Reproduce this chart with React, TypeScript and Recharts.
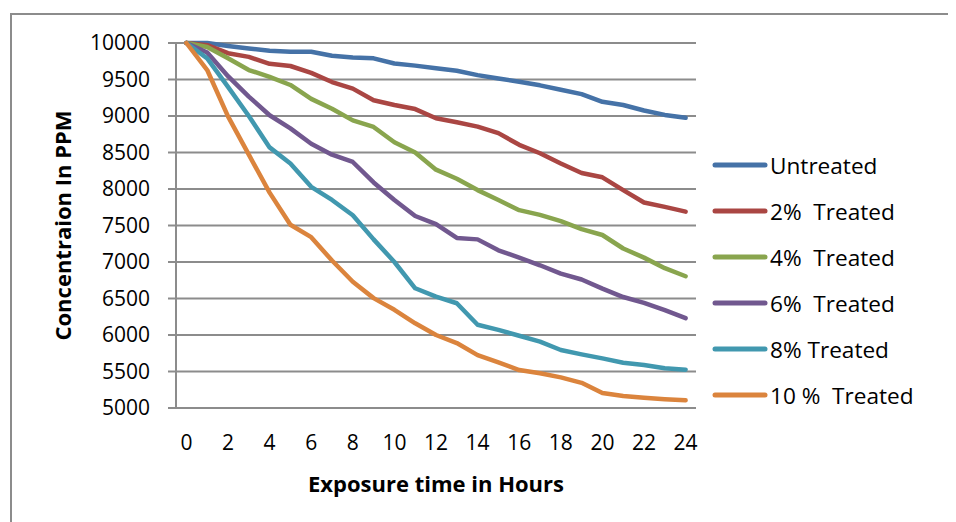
import { CartesianGrid, Line, LineChart, XAxis, YAxis } from "recharts";

const hours = [0, 1, 2, 3, 4, 5, 6, 7, 8, 9, 10, 11, 12, 13, 14, 15, 16, 17, 18, 19, 20, 21, 22, 23, 24];

const untreated = [10000, 10000, 9960, 9925, 9895, 9880, 9880, 9825, 9800, 9790, 9720, 9690, 9655, 9620, 9560, 9515, 9470, 9420, 9360, 9300, 9195, 9150, 9075, 9015, 8975];
const treated2 = [10000, 9970, 9860, 9810, 9715, 9685, 9590, 9465, 9375, 9215, 9150, 9095, 8970, 8915, 8855, 8765, 8605, 8490, 8350, 8220, 8160, 7985, 7815, 7755, 7690];
const treated4 = [10000, 9945, 9790, 9630, 9535, 9425, 9235, 9100, 8940, 8850, 8640, 8500, 8265, 8140, 7985, 7850, 7710, 7645, 7560, 7450, 7370, 7185, 7060, 6915, 6805];
const treated6 = [10000, 9870, 9545, 9265, 9010, 8830, 8620, 8470, 8370, 8090, 7850, 7630, 7520, 7330, 7310, 7160, 7060, 6955, 6840, 6760, 6635, 6520, 6440, 6340, 6230];
const treated8 = [10000, 9790, 9400, 9000, 8570, 8350, 8030, 7850, 7640, 7310, 7000, 6640, 6525, 6435, 6140, 6070, 5990, 5910, 5795, 5735, 5680, 5620, 5590, 5545, 5525];
const treated10 = [10000, 9630, 8995, 8470, 7950, 7510, 7340, 7020, 6730, 6505, 6345, 6160, 6000, 5890, 5725, 5625, 5520, 5475, 5420, 5345, 5205, 5165, 5140, 5120, 5105];

const yTicks = [5000, 5500, 6000, 6500, 7000, 7500, 8000, 8500, 9000, 9500, 10000];
const xTicks = [0, 2, 4, 6, 8, 10, 12, 14, 16, 18, 20, 22, 24];

const series = [
  { key: "untreated", name: "Untreated", values: untreated, color: "#4572A7" },
  { key: "t2", name: "2%  Treated", values: treated2, color: "#AA4643" },
  { key: "t4", name: "4%  Treated", values: treated4, color: "#89A54E" },
  { key: "t6", name: "6%  Treated", values: treated6, color: "#71588F" },
  { key: "t8", name: "8% Treated", values: treated8, color: "#4198AF" },
  { key: "t10", name: "10 %  Treated", values: treated10, color: "#DB843D" },
];

const data = hours.map((h, i) => {
  const row: Record<string, number> = { hour: h };
  series.forEach((s) => (row[s.key] = s.values[i]));
  return row;
});

const FONT = "'Open Sans', sans-serif";
const GRID = "#8c8c8c";

function YTitle({ viewBox }: any) {
  const cy = viewBox.y + viewBox.height / 2;
  return (
    <text
      x={54}
      y={cy}
      transform={`rotate(-90, 54, ${cy})`}
      textAnchor="middle"
      dominantBaseline="central"
      fontFamily={FONT}
      fontWeight="bold"
      fontSize={22}
      fill="#000"
    >
      Concentraion In PPM
    </text>
  );
}

function XTitle({ viewBox }: any) {
  return (
    <text
      x={viewBox.x + viewBox.width / 2}
      y={475}
      textAnchor="middle"
      dominantBaseline="central"
      fontFamily={FONT}
      fontWeight="bold"
      fontSize={22}
      fill="#000"
    >
      Exposure time in Hours
    </text>
  );
}

function LegendBox() {
  return (
    <div
      style={{
        position: "absolute",
        left: 704,
        top: 134,
        width: 240,
        fontFamily: FONT,
        fontSize: 22.6,
        color: "#000",
      }}
    >
      {series.map((s) => (
        <div key={s.key} style={{ height: 46, display: "flex", alignItems: "center" }}>
          <svg width={56} height={10} style={{ marginRight: 2 }}>
            <line x1={3} y1={5} x2={53} y2={5} stroke={s.color} strokeWidth={5} strokeLinecap="round" />
          </svg>
          <span style={{ whiteSpace: "pre" }}>{s.name}</span>
        </div>
      ))}
    </div>
  );
}

export default function App() {
  return (
    <div style={{ position: "relative", width: 948, height: 514, overflow: "hidden" }}>
      <div
        style={{
          position: "absolute",
          left: 2,
          top: 5,
          width: 1200,
          height: 1200,
          borderLeft: `2px solid ${GRID}`,
          borderTop: `2px solid ${GRID}`,
        }}
      />
      <div style={{ position: "absolute", left: 0, top: 0 }}>
        <LineChart
          width={948}
          height={514}
          data={data}
          margin={{ top: 35, right: 260, left: 88, bottom: 34 }}
        >
          <CartesianGrid horizontal vertical={false} stroke={GRID} strokeWidth={2} />
          <XAxis
            dataKey="hour"
            type="category"
            ticks={xTicks}
            interval={0}
            padding={{ left: 10.4, right: 10.4 }}
            tickLine={false}
            axisLine={{ stroke: GRID, strokeWidth: 2 }}
            tickMargin={21}
            tick={{ fontFamily: FONT, fontSize: 21, fill: "#000" }}
            height={80}
            label={<XTitle />}
          />
          <YAxis
            type="number"
            domain={[5000, 10000]}
            ticks={yTicks}
            interval={0}
            width={80}
            tickSize={8}
            tickMargin={18}
            tickLine={{ stroke: GRID, strokeWidth: 2 }}
            axisLine={{ stroke: GRID, strokeWidth: 2 }}
            tick={{ fontFamily: FONT, fontSize: 21, fill: "#000" }}
            label={<YTitle />}
          />
          {series.map((s) => (
            <Line
              key={s.key}
              dataKey={s.key}
              name={s.name}
              stroke={s.color}
              strokeWidth={4.5}
              strokeLinecap="round"
              strokeLinejoin="round"
              dot={false}
              activeDot={false}
              isAnimationActive={false}
            />
          ))}
        </LineChart>
      </div>
      <LegendBox />
    </div>
  );
}
